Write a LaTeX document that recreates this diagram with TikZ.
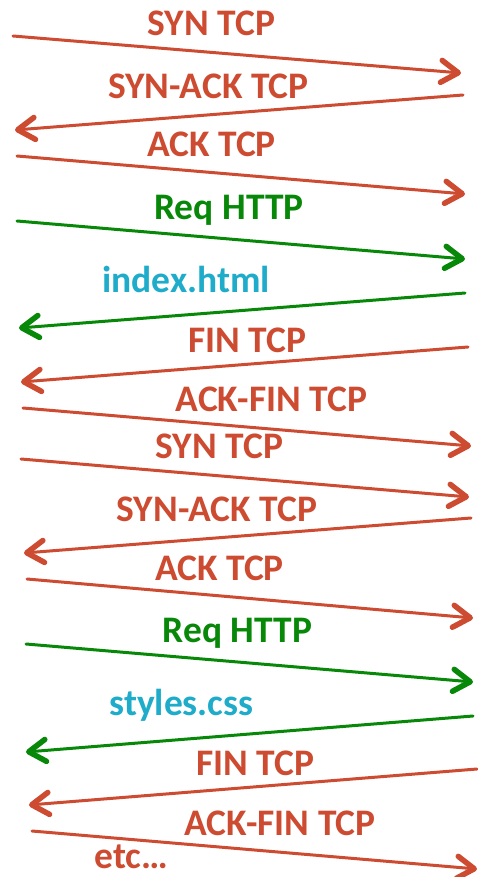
\documentclass[tikz,border=0pt]{standalone}
\usepackage{fontspec}
\setmainfont{Carlito}
\usetikzlibrary{arrows.meta}
\definecolor{tcpred}{HTML}{CD4B30}
\definecolor{httpgreen}{HTML}{088808}
\definecolor{filecyan}{HTML}{1FACCA}
\tikzset{
  lbl/.style={anchor=base, inner sep=0pt, font=\bfseries\fontsize{37.5}{42}\selectfont},
  tcplbl/.style={lbl, text=tcpred},
  httplbl/.style={lbl, text=httpgreen},
  filelbl/.style={lbl, text=filecyan},
  msg/.style={line width=3pt, line cap=round,
    -{Straight Barb[length=17pt, width=22pt, line width=5.5pt, round]}},
  tcpmsg/.style={msg, draw=tcpred},
  httpmsg/.style={msg, draw=httpgreen},
}
\begin{document}
\begin{tikzpicture}[x=1pt, y=-1pt]
\useasboundingbox (0,0) rectangle (478,877);
% labels
\node[tcplbl]  (l1)  at (211.5,36)  {SYN TCP};
\node[tcplbl]  (l2)  at (208.5,99)  {SYN-ACK TCP};
\node[tcplbl]  (l3)  at (211.5,157) {ACK TCP};
\node[httplbl] (l4)  at (229,220)   {Req HTTP};
\node[filelbl] (l5)  at (186,292)   {index.html};
\node[tcplbl]  (l6)  at (247,352)   {FIN TCP};
\node[tcplbl]  (l7)  at (271.5,411) {ACK-FIN TCP};
\node[tcplbl]  (l8)  at (219.5,458) {SYN TCP};
\node[tcplbl]  (l9)  at (217,521)   {SYN-ACK TCP};
\node[tcplbl]  (l10) at (219.5,580) {ACK TCP};
\node[httplbl] (l11) at (237.5,642) {Req HTTP};
\node[filelbl] (l12) at (181.5,715) {styles.css};
\node[tcplbl]  (l13) at (255,775)   {FIN TCP};
\node[tcplbl]  (l14) at (280,835)   {ACK-FIN TCP};
\node[tcplbl]  (l15) at (131.5,868) {etc…};
% endpoints
\coordinate (a1) at (13,36);   \coordinate (b1) at (461,73);
\coordinate (a2) at (463,95);  \coordinate (b2) at (15,130);
\coordinate (a3) at (17,156);  \coordinate (b3) at (465,194);
\coordinate (a4) at (17,221);  \coordinate (b4) at (465,259);
\coordinate (a5) at (465,293); \coordinate (b5) at (19,328);
\coordinate (a6) at (468,347); \coordinate (b6) at (21,382);
\coordinate (a7) at (23,408);  \coordinate (b7) at (471,446);
\coordinate (a8) at (21,459);  \coordinate (b8) at (469,497);
\coordinate (a9) at (471,518); \coordinate (b9) at (24,553);
\coordinate (a10) at (27,579); \coordinate (b10) at (473,618);
\coordinate (a11) at (26,644); \coordinate (b11) at (473,682);
\coordinate (a12) at (473,716);\coordinate (b12) at (26,752);
\coordinate (a13) at (477,769);\coordinate (b13) at (29,805);
\coordinate (a14) at (32,831); \coordinate (b14) at (477,869);
% messages
\draw[tcpmsg]  (a1) -- (b1);
\draw[tcpmsg]  (a2) -- (b2);
\draw[tcpmsg]  (a3) -- (b3);
\draw[httpmsg] (a4) -- (b4);
\draw[httpmsg] (a5) -- (b5);
\draw[tcpmsg]  (a6) -- (b6);
\draw[tcpmsg]  (a7) -- (b7);
\draw[tcpmsg]  (a8) -- (b8);
\draw[tcpmsg]  (a9) -- (b9);
\draw[tcpmsg]  (a10) -- (b10);
\draw[httpmsg] (a11) -- (b11);
\draw[httpmsg] (a12) -- (b12);
\draw[tcpmsg]  (a13) -- (b13);
\draw[tcpmsg]  (a14) -- (b14);
\end{tikzpicture}
\end{document}
